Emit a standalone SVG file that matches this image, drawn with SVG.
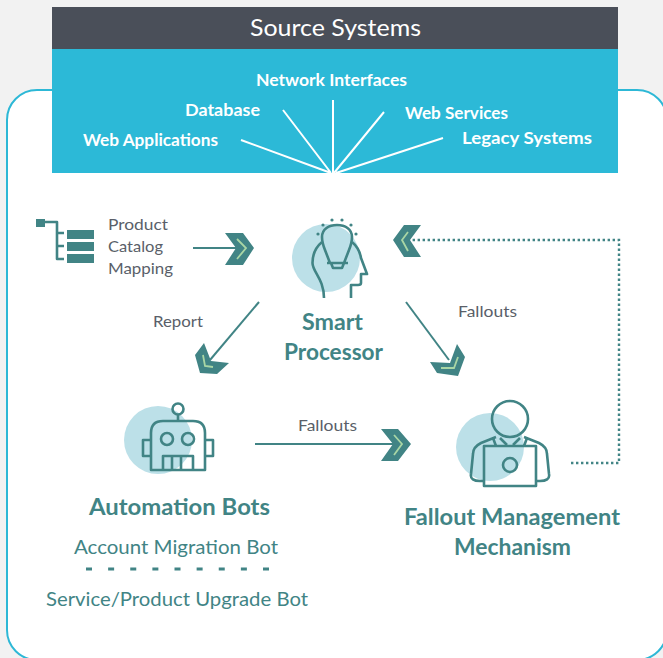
<svg xmlns="http://www.w3.org/2000/svg" width="663" height="658" viewBox="0 0 663 658">
<style>
text{font-family:"Lato","Open Sans","Liberation Sans",sans-serif}
.src{fill:#fff;font-size:17px;font-weight:700}
.gr{fill:#5a5f69;font-size:16px}
.tb{fill:#418485;font-size:22px;font-weight:700}
.tr{fill:#418485;font-size:20px}
.ln{fill:none;stroke:#418485;stroke-width:2}
.ic{fill:none;stroke:#418485;stroke-width:2.6;stroke-linejoin:round}
.ray{stroke:#fff;stroke-width:2;fill:none}
.blob{fill:#bce0e8}
.chev{fill:#418485}
.inner{fill:none;stroke:#a9d6a5;stroke-width:1.8}
.dot{fill:none;stroke:#418485;stroke-width:2.4;stroke-dasharray:2.4 2.6}
</style>
<rect width="663" height="658" fill="#f2f2f2"/>
<rect id="frame" x="7" y="90" width="660" height="570" rx="30" fill="#fff" stroke="#2db8d6" stroke-width="2"/>
<g id="source-systems">
<rect x="52" y="7" width="566" height="42" fill="#4a4f59"/>
<rect x="52" y="49" width="566" height="124" fill="#2cb9d7"/>
<text x="250" y="36" font-size="24" fill="#fff" textLength="171" lengthAdjust="spacingAndGlyphs">Source Systems</text>
<text class="src" x="256" y="86" textLength="151" lengthAdjust="spacingAndGlyphs">Network Interfaces</text>
<text class="src" x="185" y="116" textLength="75" lengthAdjust="spacingAndGlyphs">Database</text>
<text class="src" x="405" y="119" textLength="103" lengthAdjust="spacingAndGlyphs">Web Services</text>
<text class="src" x="462" y="144" textLength="130" lengthAdjust="spacingAndGlyphs">Legacy Systems</text>
<text class="src" x="83" y="146" textLength="135" lengthAdjust="spacingAndGlyphs">Web Applications</text>
<path class="ray" d="M241 140L331 173M283 110L331 173M333 100V173M384 112L334 173M443 138L336 173"/>
</g>
<g id="catalog-mapping">
<rect class="chev" x="36" y="219" width="9" height="8"/>
<path class="ic" d="M45 222H57V259H64M57 233H64M57 246H64"/>
<rect class="chev" x="67" y="230" width="27" height="9"/>
<rect class="chev" x="67" y="242" width="27" height="9"/>
<rect class="chev" x="67" y="254" width="27" height="9"/>
<text class="gr" x="108" y="230" textLength="60" lengthAdjust="spacingAndGlyphs">Product</text>
<text class="gr" x="108" y="252" textLength="55" lengthAdjust="spacingAndGlyphs">Catalog</text>
<text class="gr" x="108" y="274" textLength="65" lengthAdjust="spacingAndGlyphs">Mapping</text>
</g>
<g id="smart-processor">
<circle class="blob" cx="326" cy="258" r="34"/>
<path class="ic" d="M330 263L325 250C323 245 322 241 322 237C322 229 329 225 337 225C345 225 352 229 352 237C352 241 351 245 349 250L344 263M327 263H348M331 263L333 268H342L344 263"/>
<path class="ic" d="M322 242C316 247 312.500 254 312.500 263C312.500 272 324 279 324 298M352 242C358 247 360 252 361 258L367 274H361V283Q361 285 358 285H351V298"/>
<g fill="#418485"><circle cx="323" cy="225" r="1.6"/><circle cx="332" cy="220" r="1.6"/><circle cx="342" cy="220" r="1.6"/><circle cx="351" cy="225" r="1.6"/><circle cx="356" cy="234" r="1.6"/><circle cx="318" cy="234" r="1.6"/></g>
<text class="tb" x="302" y="329.500" textLength="61" lengthAdjust="spacingAndGlyphs">Smart</text>
<text class="tb" x="284" y="359.500" textLength="99" lengthAdjust="spacingAndGlyphs">Processor</text>
</g>
<g id="automation-bots">
<circle class="blob" cx="158" cy="440" r="34"/>
<circle class="ic" cx="178" cy="409" r="5.5"/>
<path class="ic" d="M178 415V421M151 470V433Q151 421 163 421H193Q205 421 205 433V470ZM151 440H143V456H151M205 440H213V456H205M163 470V456H193V470M172 456V470M181 456V470"/>
<circle class="ic" cx="167" cy="439" r="6"/>
<circle class="ic" cx="188" cy="439" r="6"/>
<text class="tb" x="89" y="514.500" textLength="181" lengthAdjust="spacingAndGlyphs">Automation Bots</text>
<text class="tr" x="74" y="554" textLength="204" lengthAdjust="spacingAndGlyphs">Account Migration Bot</text>
<path d="M86 569H270" fill="none" stroke="#418485" stroke-width="3" stroke-dasharray="6 16.125"/>
<text class="tr" x="46" y="606" textLength="262" lengthAdjust="spacingAndGlyphs">Service/Product Upgrade Bot</text>
</g>
<g id="fallout-management">
<circle class="blob" cx="490" cy="447" r="34"/>
<circle class="ic" cx="510" cy="419" r="18"/>
<path class="ic" d="M496 437L481 443C475 446 473 449 473 454L471 474C470 479 474 481 480 481H484M524 437L539 443C545 446 547 449 547 454L549 474C550 479 546 481 540 481H536M493 438L496 446M527 438L524 446M500 438L507 445M520 438L513 445"/>
<rect class="ic" x="484" y="446" width="52" height="40"/>
<circle class="ic" cx="510" cy="465" r="7"/>
<text class="tb" x="404" y="524.500" textLength="216" lengthAdjust="spacingAndGlyphs">Fallout Management</text>
<text class="tb" x="454" y="554.500" textLength="117" lengthAdjust="spacingAndGlyphs">Mechanism</text>
</g>
<g id="connectors">
<path class="ln" d="M193 248H236"/>
<path class="chev" d="M225 233H243L254 248L243 265H225L236 248Z"/>
<path class="inner" d="M237 239L246 248L237 259"/>
<path class="ln" d="M259 302L210 360"/>
<path class="chev" d="M204 343L195 355L200 373L217 374L229 363L211 361Z"/>
<path class="inner" d="M203 355L205 366L213 367"/>
<path class="ln" d="M406 302L449 360"/>
<path class="chev" d="M457 344L465 357L458 376L437 373L430 362L450 363Z"/>
<path class="inner" d="M458 357L454 368L441 368"/>
<path class="ln" d="M255 444H393"/>
<path class="chev" d="M381 429H398L411 444L398 461H381L393 444Z"/>
<path class="inner" d="M394 435L402 444L394 455"/>
<path class="dot" d="M571 463H619V240H411"/>
<path class="chev" d="M421 225H404L393 240L404 257H421L410 240Z"/>
<path class="inner" d="M408 232L402 240L408 251"/>
<text class="gr" x="153" y="327" textLength="50" lengthAdjust="spacingAndGlyphs">Report</text>
<text class="gr" x="458" y="317" textLength="59" lengthAdjust="spacingAndGlyphs">Fallouts</text>
<text class="gr" x="298" y="431" textLength="59" lengthAdjust="spacingAndGlyphs">Fallouts</text>
</g>
</svg>
